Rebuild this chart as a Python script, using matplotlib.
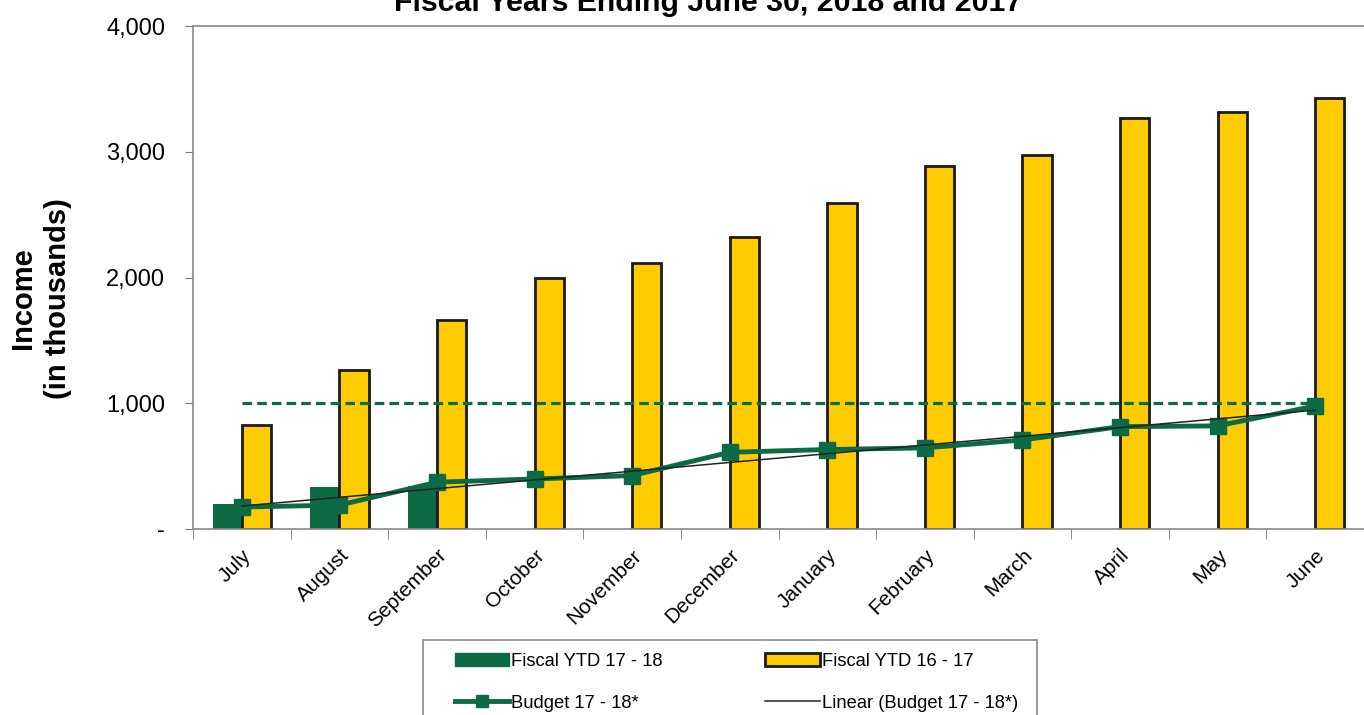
import numpy as np
import matplotlib.pyplot as plt
from matplotlib.lines import Line2D
from matplotlib.patches import Patch, Rectangle
from matplotlib.ticker import FuncFormatter

plt.rcParams['font.family'] = ['Liberation Sans', 'DejaVu Sans']

months = ["July", "August", "September", "October", "November", "December",
          "January", "February", "March", "April", "May", "June"]
fy_17_18 = [195, 335, 345]
fy_16_17 = [827, 1264, 1662, 1996, 2115, 2322, 2592, 2887, 2974, 3268, 3320, 3428]
budget = [175, 190, 372, 398, 425, 610, 632, 645, 708, 814, 820, 978]
target = 1000

green = "#0C6B44"
yellow = "#FFCC00"

fig = plt.figure(figsize=(13.64, 7.15), dpi=100)
ax = fig.add_axes([193 / 1364, 1 - 529 / 715, 1 - 193 / 1364, (529 - 26) / 715])

x = np.arange(len(months))
w = 0.3
ax.bar(x[:len(fy_17_18)] - w / 2, fy_17_18, width=w, color=green, zorder=2)
ax.bar(x + w / 2, fy_16_17, width=w, color=yellow, edgecolor="#1a1a1a",
       linewidth=2, zorder=2)

# dashed target line
ax.plot([x[0], x[-1]], [target, target], color=green, linestyle=(0, (3, 1.6)),
        linewidth=2.3, zorder=3)

# budget line + linear trend
ax.plot(x, budget, color=green, linewidth=3.5, marker="s", markersize=11, zorder=4)
coef = np.polyfit(x, budget, 1)
ax.plot(x, np.polyval(coef, x), color="#222222", linewidth=1.1, zorder=5)

ax.set_xlim(-0.5, len(months) - 0.5)
ax.set_ylim(0, 4000)
ax.set_yticks([0, 1000, 2000, 3000, 4000])
ax.yaxis.set_major_formatter(FuncFormatter(lambda v, p: "-" if v == 0 else f"{int(v):,}"))
ax.tick_params(axis="y", labelsize=17, length=6, color="#777777", pad=14)

ax.set_xticks(x)
ax.set_xticklabels(months, rotation=45, ha="right", rotation_mode="anchor", fontsize=15)
ax.set_xticks(np.arange(-0.5, len(months)), minor=True)
ax.tick_params(axis="x", which="major", length=0, pad=12)
ax.tick_params(axis="x", which="minor", length=7, color="#777777")

for s in ["left", "bottom", "top"]:
    ax.spines[s].set_color("#888888")
    ax.spines[s].set_linewidth(1.2)
ax.spines["right"].set_visible(False)

ax.set_ylabel("Income\n(in thousands)", fontsize=21, fontweight="bold", linespacing=1.3)
ax.yaxis.set_label_coords(-0.1033, 0.459)

fig.text(708 / 1364, 0.996, "Fiscal Years Ending June 30, 2018 and 2017", ha="center",
         va="center", fontsize=21.8, fontweight="bold")

# legend box (runs off the bottom edge like the scan)
fig.patches.append(Rectangle((423 / 1364, -0.05), (1037 - 423) / 1364, 0.05 + 75 / 715,
                             transform=fig.transFigure, facecolor="white",
                             edgecolor="#888888", linewidth=1.2, zorder=0))

handles = [
    Patch(facecolor=green, edgecolor=green),
    Line2D([], [], color=green, linewidth=3.5, marker="s", markersize=9),
    Patch(facecolor=yellow, edgecolor="#1a1a1a", linewidth=2),
    Line2D([], [], color="#222222", linewidth=1.1),
]
labels = ["Fiscal YTD 17 - 18", "Budget 17 - 18*", "Fiscal YTD 16 - 17",
          "Linear (Budget 17 - 18*)"]
fig.legend(handles, labels, ncol=2, loc="upper left",
           bbox_to_anchor=(455 / 1364, 1 - 653 / 715), fontsize=13.2,
           frameon=False, handlelength=2.95, handletextpad=0.12, columnspacing=5.6,
           labelspacing=1.35, borderpad=0, borderaxespad=0)

fig.savefig("out.png", dpi=100)
